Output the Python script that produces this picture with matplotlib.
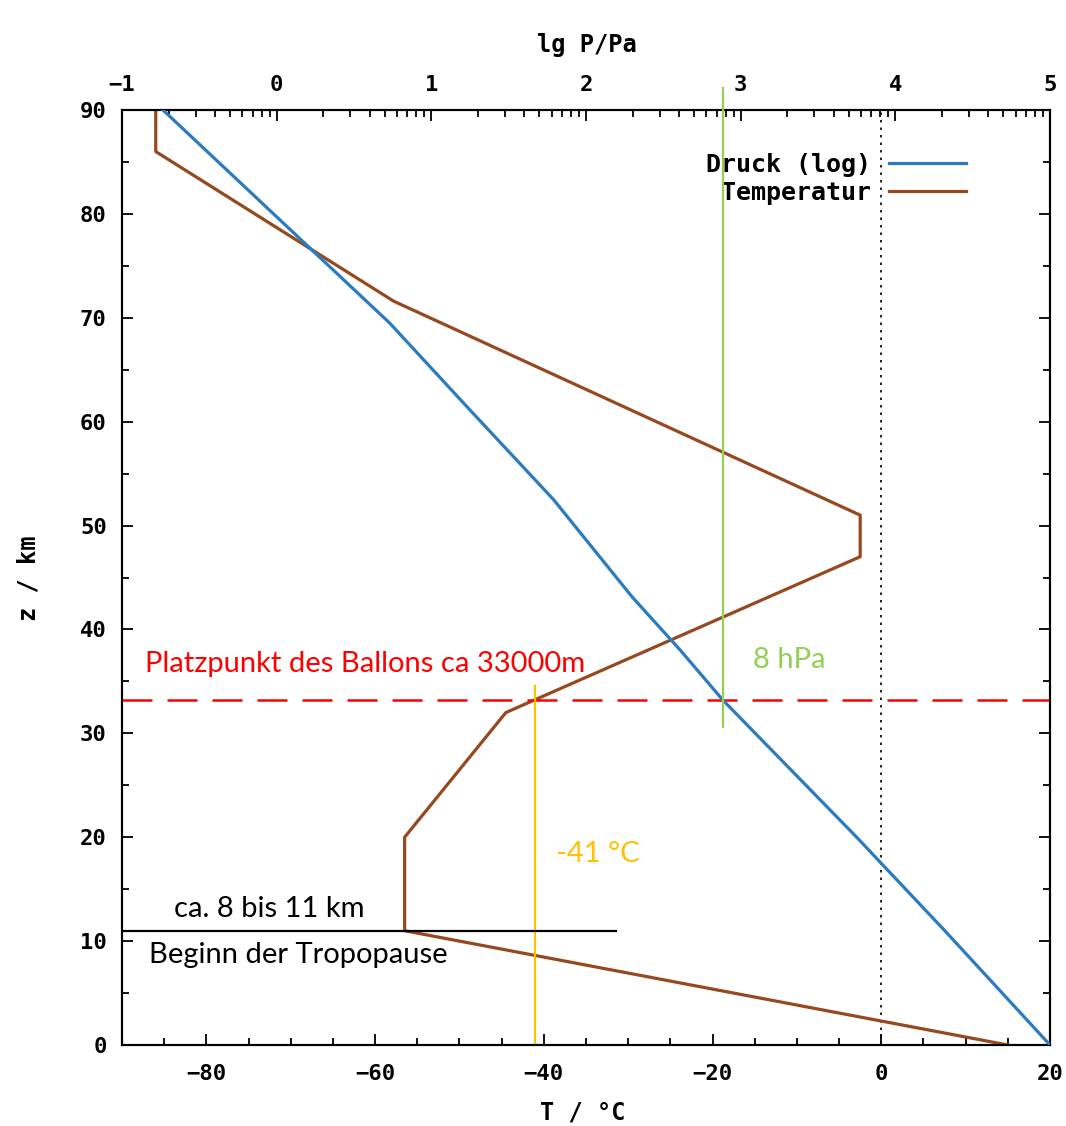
import numpy as np
import matplotlib
matplotlib.use("Agg")
import matplotlib.pyplot as plt

# Temperaturprofil, z in km, T in Grad C
z_temp = [0, 11, 20, 32, 47, 51, 71.6, 86, 90]
t_temp = [15, -56.5, -56.5, -44.5, -2.5, -2.5, -57.8, -86.0, -86.0]

# Druck, lg(P/Pa) ueber z
z_druck = [0, 11, 20, 33.2, 38, 43.1, 52.5, 60.8, 69.5, 90]
lgp_druck = [5.0, 4.32, 3.75, 2.885, 2.61, 2.30, 1.79, 1.27, 0.73, -0.735]

# Markierungen
z_platz = 33.2          # Platzpunkt des Ballons
t_platz = -41           # Temperatur dort
lgp_platz = 2.885       # lg P dort
p_platz_hpa = 8
z_tropo = 11            # Beginn der Tropopause

blue = "#2a7bbf"
brown = "#96491e"
mono = "DejaVu Sans Mono"
note_font = "Lato"

fig = plt.figure(figsize=(10.66, 11.26), dpi=100)
ax = fig.add_axes([122 / 1066, 1 - 1045 / 1126, 928 / 1066, 935 / 1126])
ax.set_xlim(-90, 20)
ax.set_ylim(0, 90)

ax.plot(t_temp, z_temp, color=brown, lw=2.3, label=" Temperatur", zorder=3)
ax.axvline(0, color="black", lw=1.2, ls=(0, (1.5, 3)), zorder=1)

ax2 = ax.twiny()
ax2.set_xlim(-1, 5)
ax2.plot(lgp_druck, z_druck, color=blue, lw=2.3, label="Druck (log)", zorder=3)

# Ticks
ax.set_xticks(np.arange(-80, 21, 20))
ax.set_xticks(np.arange(-90, 21, 5), minor=True)
ax.set_yticks(np.arange(0, 91, 10))
ax.set_yticks(np.arange(0, 91, 5), minor=True)
ax.tick_params(which="both", direction="in", top=False, right=True, width=1.3)
ax.tick_params(which="major", length=8, labelsize=16, pad=11)
ax.tick_params(which="minor", length=5)
ax.tick_params(axis="x", pad=14)

ax2.set_xticks(np.arange(-1, 6, 1))
ax2.set_xticks([i + np.log10(k) for i in range(-1, 5) for k in range(2, 10)], minor=True)
ax2.tick_params(which="both", direction="in", width=1.3)
ax2.tick_params(which="major", length=8, labelsize=16, pad=11)
ax2.tick_params(which="minor", length=5)

for lab in ax.get_xticklabels() + ax.get_yticklabels() + ax2.get_xticklabels():
    lab.set_family(mono)
    lab.set_weight("bold")

for a in (ax, ax2):
    for s in a.spines.values():
        s.set_linewidth(1.5)

# Achsenbeschriftungen
fig.text(587 / 1066, 1 - 45 / 1126, "lg P/Pa", family=mono, weight="bold",
         fontsize=17, ha="center", va="center")
fig.text(583 / 1066, 1 - 1112 / 1126, "T / °C", family=mono, weight="bold",
         fontsize=17, ha="center", va="center")
fig.text(28 / 1066, 1 - 578 / 1126, "z / km", family=mono, weight="bold",
         fontsize=17, ha="center", va="center", rotation=90)

# Legende
h1, l1 = ax2.get_legend_handles_labels()
h0, l0 = ax.get_legend_handles_labels()
leg = ax.legend(h1 + h0, l1 + l0, loc="upper right", bbox_to_anchor=(0.934, 0.978),
                frameon=False, markerfirst=False, handlelength=3.1,
                handletextpad=0.7, labelspacing=0.15,
                prop={"family": mono, "weight": "bold", "size": 18})

# Platzpunkt
ax.axhline(z_platz, color="red", lw=1.8, ls=(0, (12, 6)), zorder=4)
ax.text(-87.3, 35.9, "Platzpunkt des Ballons ca 33000m", color="red",
        family=note_font, fontsize=21, ha="left", va="baseline")

# Druck am Platzpunkt
ax2.plot([lgp_platz, lgp_platz], [30.6, 92.1], color="#92d050",
         lw=1.6, clip_on=False, zorder=5)
ax.text(-15.2, 36.3, f"{p_platz_hpa} hPa", color="#92d050", family=note_font,
        fontsize=21, ha="left", va="baseline")

# Temperatur am Platzpunkt
ax.plot([t_platz, t_platz], [0, 34.6], color="#ffc000", lw=1.6, zorder=5)
ax.text(-38.6, 17.6, f"{t_platz} °C", color="#ffc000", family=note_font,
        fontsize=21, ha="left", va="baseline")

# Tropopause
ax.plot([-90, -31.4], [z_tropo, z_tropo], color="black", lw=1.6, zorder=5)
ax.text(-83.8, 12.3, "ca. 8 bis 11 km", color="black", family=note_font,
        fontsize=21, ha="left", va="baseline")
ax.text(-86.8, 7.9, "Beginn der Tropopause", color="black",
        family=note_font, fontsize=21, ha="left", va="baseline")

fig.savefig("out.png", dpi=100)
